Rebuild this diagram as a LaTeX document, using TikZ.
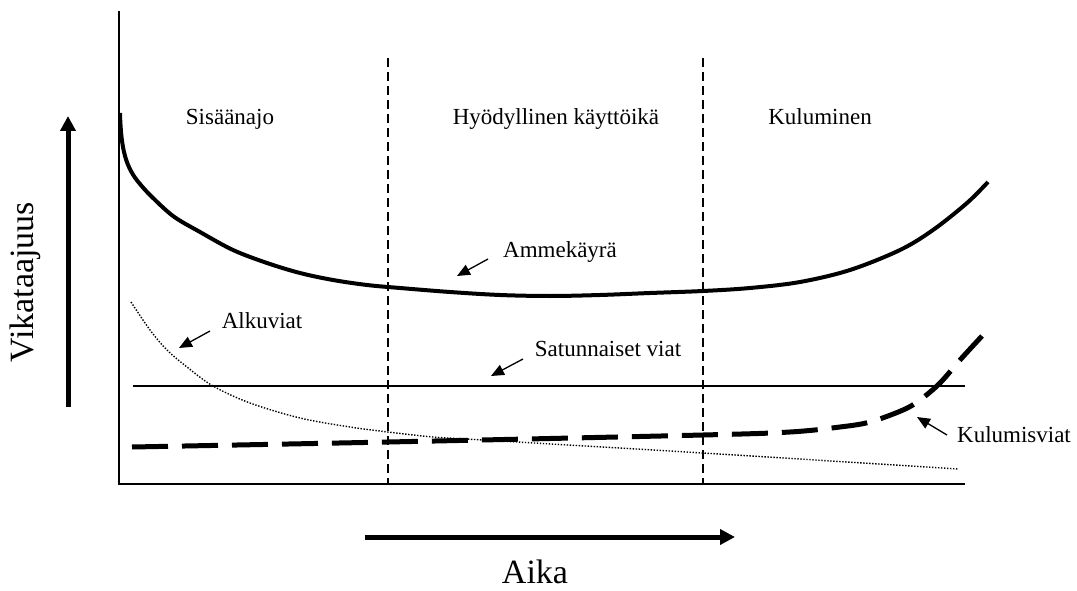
\documentclass[tikz,border=0pt]{standalone}
\usepackage{fontspec}
\setmainfont{Liberation Serif}
\usetikzlibrary{arrows.meta}
\tikzset{
  lbl/.style={inner sep=0pt, font=\fontsize{23}{27}\selectfont},
  biglbl/.style={inner sep=0pt, font=\fontsize{34}{40}\selectfont},
  axis/.style={line width=2.4pt},
  phase/.style={line width=2.2pt, dash pattern=on 9pt off 5pt},
  bathtub/.style={line width=4pt},
  random/.style={line width=2pt},
  early/.style={line width=1.4pt, dash pattern=on 1.4pt off 1.6pt},
  wear/.style={line width=5pt, dash pattern=on 36pt off 14pt},
  ptr/.style={line width=1.3pt, -{Triangle[length=13pt,width=11pt]}},
  bigarrow/.style={line width=5pt, -{Triangle[length=15pt,width=15pt]}}
}
\begin{document}
\begin{tikzpicture}[x=1pt,y=-1pt]
\useasboundingbox (0,0) rectangle (1077,591);

% axes
\coordinate (ytop) at (119,11);
\coordinate (origin) at (119,484);
\coordinate (xend) at (965,484);
\draw[axis] (ytop) -- (origin) -- (xend);

% phase boundaries
\coordinate (p1t) at (388,58);
\coordinate (p1b) at (388,484);
\coordinate (p2t) at (703,58);
\coordinate (p2b) at (703,484);
\draw[phase] (p1t) -- (p1b);
\draw[phase] (p2t) -- (p2b);

% phase names
\node[lbl, anchor=base] (sis) at (230,125) {Sisäänajo};
\node[lbl, anchor=base] (hyo) at (556,125) {Hyödyllinen käyttöikä};
\node[lbl, anchor=base] (kul) at (820,125) {Kuluminen};

% bathtub curve
\draw[bathtub] (120,113) .. controls (121,150) and (126,168) .. (140,184)
  plot[smooth, tension=0.55] coordinates {
  (140,184) (150,195) (173,216) (200,232)
  (233,250) (267,263) (300,273) (333,280) (367,285) (400,288) (450,292)
  (500,295) (550,296) (600,295) (650,293) (703,291) (750,288) (800,282)
  (850,270) (900,250) (933,230) (967,203) (988,182)};

% random failures
\coordinate (rL) at (133,386);
\coordinate (rR) at (965,386);
\draw[random] (rL) -- (rR);

% early failures
\draw[early] plot[smooth, tension=0.55] coordinates {
  (131,302) (150,330) (167,350) (187,367) (213,386) (250,403) (300,418)
  (350,427) (388,432) (433,437) (483,440) (703,453) (958,469)};

% wear-out failures
\draw[wear] plot[smooth, tension=0.55] coordinates {
  (132,447) (388,442) (703,435) (790,432) (840,427) (870,422) (903,410)
  (920,400) (940,383) (960,360) (982,336)};

% curve labels with pointers
\node[lbl, anchor=base] (alku) at (262,328) {Alkuviat};
\coordinate (alkT) at (210,331);
\coordinate (alkH) at (179,348);
\draw[ptr] (alkT) -- (alkH);

\node[lbl, anchor=base] (amme) at (560,257) {Ammekäyrä};
\coordinate (amT) at (488,259);
\coordinate (amH) at (457,276);
\draw[ptr] (amT) -- (amH);

\node[lbl, anchor=base] (satu) at (608,356) {Satunnaiset viat};
\coordinate (saT) at (523,359);
\coordinate (saH) at (491,376);
\draw[ptr] (saT) -- (saH);

\node[lbl, anchor=base] (kulu) at (1014,442) {Kulumisviat};
\coordinate (kuT) at (947,435);
\coordinate (kuH) at (917,417);
\draw[ptr] (kuT) -- (kuH);

% axis titles
\coordinate (vaB) at (68,407);
\coordinate (vaT) at (68,116);
\draw[bigarrow] (vaB) -- (vaT);
\node[biglbl, rotate=90] (vika) at (25,282) {Vikataajuus};

\coordinate (haL) at (365,537);
\coordinate (haR) at (735,537);
\draw[bigarrow] (haL) -- (haR);
\node[biglbl, anchor=base, text depth=0pt] (aika) at (535,583) {Aika};
\end{tikzpicture}
\end{document}
